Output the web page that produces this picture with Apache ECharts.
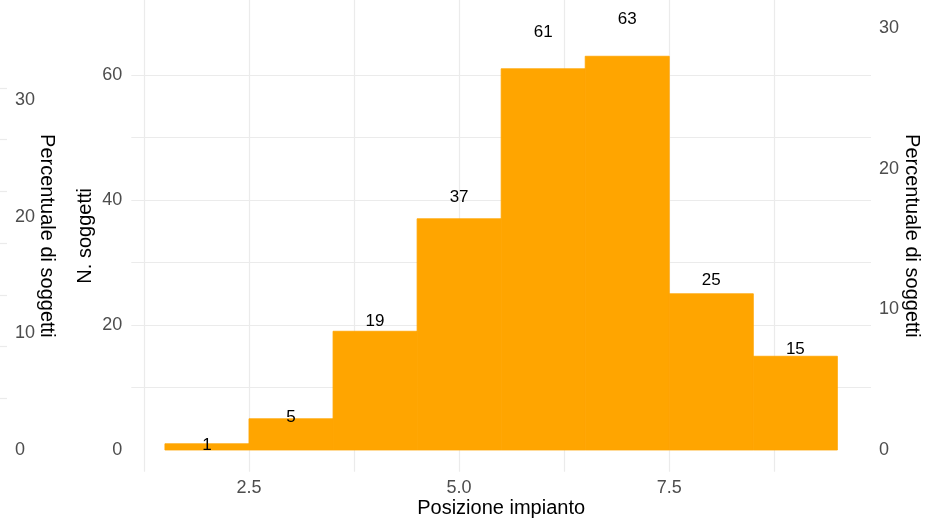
<!DOCTYPE html>
<html><head><meta charset="utf-8">
<script src="https://cdn.jsdelivr.net/npm/echarts@6/dist/echarts.min.js"></script>
<style>html,body{margin:0;padding:0;background:#fff}#c{width:939px;height:524px}</style>
</head><body><div id="c"></div>
<script>
// ---- data ----
const binCenters = [2, 3, 4, 5, 6, 7, 8, 9];
const counts = [1, 5, 19, 37, 61, 63, 25, 15];
const binWidth = 1;
const xLabelTicks = [2.5, 5, 7.5];
const xGridStep = 1.25;          // x grid lines every 1.25
const yGridTicks = [0, 10, 20, 30, 40, 50, 60, 70];
const yLabelTicks = [0, 20, 40, 60];
const pctTicks = [0, 10, 20, 30];
const edgeTicks = [0, 1, 2, 3, 4, 5, 6, 7, 8];
const rightCountsPerPct = 2.25;
const leftCountsPerPct = 1.867;
const edgeCountsPerTick = 8.28;
const labelLift = 1.1;

// ---- layout ----
const xMin = 1.1, xMax = 9.9;
const yMin = -3.472, yMax = 72;
const FONT = "'Liberation Sans', Arial, sans-serif";
const GRID = '#ebebeb';
const TICK = '#4d4d4d';

const chart = echarts.init(document.getElementById('c'), null, {renderer: 'canvas'});
const seriesData = binCenters.map((x, i) => [x, counts[i]]);
const gridLine = {show: true, showMinLine: false, showMaxLine: false, lineStyle: {color: GRID, width: 1.2}};

chart.setOption({
  animation: false,
  backgroundColor: '#fff',
  textStyle: {fontFamily: FONT},
  grid: [
    {left: 131.3, right: 68, top: 0, bottom: 52.3, outerBoundsMode: 'none', containLabel: false},
    {left: 0, width: 14, top: 0, bottom: 52.3, outerBoundsMode: 'none', containLabel: false},
    {left: 0, width: 7, top: 0, bottom: 52.3, outerBoundsMode: 'none', containLabel: false}
  ],
  xAxis: [
    {gridIndex: 0, type: 'value', min: xMin, max: xMax,
     axisLine: {show: false},
     axisTick: {show: false},
     splitLine: {show: false},
     axisLabel: {customValues: xLabelTicks, formatter: v => v.toFixed(1), color: TICK, fontSize: 18, margin: 7, fontFamily: FONT},
     name: 'Posizione impianto', nameLocation: 'middle', nameGap: 27, nameMoveOverlap: false,
     nameTextStyle: {color: '#000', fontSize: 20, fontFamily: FONT}},
    {gridIndex: 1, type: 'value', show: false},
    {gridIndex: 2, type: 'value', show: false},
    // helper axis (in units of grid steps) that only draws the vertical grid lines
    {gridIndex: 0, type: 'value', position: 'top',
     min: xMin / xGridStep, max: xMax / xGridStep, splitNumber: 7,
     axisLine: {show: false}, axisTick: {show: false}, axisLabel: {show: false},
     splitLine: gridLine}
  ],
  yAxis: [
    {gridIndex: 0, type: 'value', min: yMin, max: yMax,
     axisLine: {show: false},
     axisTick: {show: false, customValues: yGridTicks},
     splitLine: gridLine,
     axisLabel: {customValues: yLabelTicks, color: TICK, fontSize: 18, margin: 9, fontFamily: FONT},
     name: 'N. soggetti', nameLocation: 'middle', nameGap: 36, nameRotate: 90, nameMoveOverlap: false,
     nameTextStyle: {color: '#000', fontSize: 20, fontFamily: FONT}},
    {gridIndex: 0, type: 'value', position: 'right',
     min: yMin / rightCountsPerPct, max: yMax / rightCountsPerPct,
     axisLine: {show: false},
     axisTick: {show: false, customValues: pctTicks},
     splitLine: {show: false},
     axisLabel: {customValues: pctTicks, color: TICK, fontSize: 18, margin: 8, fontFamily: FONT},
     name: 'Percentuale di soggetti', nameLocation: 'middle', nameGap: 31, nameRotate: -90, nameMoveOverlap: false,
     nameTextStyle: {color: '#000', fontSize: 20, fontFamily: FONT}},
    {gridIndex: 1, type: 'value', position: 'right',
     min: yMin / leftCountsPerPct, max: yMax / leftCountsPerPct,
     axisLine: {show: false},
     axisTick: {show: false, customValues: pctTicks},
     splitLine: {show: false},
     axisLabel: {customValues: pctTicks, color: TICK, fontSize: 18, margin: 1, fontFamily: FONT},
     name: 'Percentuale di soggetti', nameLocation: 'middle', nameGap: 23, nameRotate: -90, nameMoveOverlap: false,
     nameTextStyle: {color: '#000', fontSize: 20, fontFamily: FONT}},
    {gridIndex: 2, type: 'value',
     min: yMin / edgeCountsPerTick, max: yMax / edgeCountsPerTick,
     axisLine: {show: false},
     axisTick: {show: false, customValues: edgeTicks},
     axisLabel: {show: false},
     splitLine: gridLine}
  ],
  series: [{
    type: 'custom',
    xAxisIndex: 0, yAxisIndex: 0,
    clip: false,
    data: seriesData,
    renderItem: function (params, api) {
      const x = api.value(0), c = api.value(1);
      const p0 = api.coord([x - binWidth / 2, c]);
      const p1 = api.coord([x + binWidth / 2, 0]);
      const pt = api.coord([x, c * labelLift]);
      return {
        type: 'group',
        children: [
          {type: 'rect', shape: {x: p0[0], y: p0[1], width: p1[0] - p0[0], height: p1[1] - p0[1]},
           style: {fill: '#FFA500', stroke: '#FFA500', lineWidth: 0.8}},
          {type: 'text', x: pt[0], y: pt[1] + 2,
           style: {text: String(c), fill: '#000', font: '17px ' + FONT, align: 'center', verticalAlign: 'middle'}}
        ]
      };
    }
  }]
});
</script>
</body></html>
